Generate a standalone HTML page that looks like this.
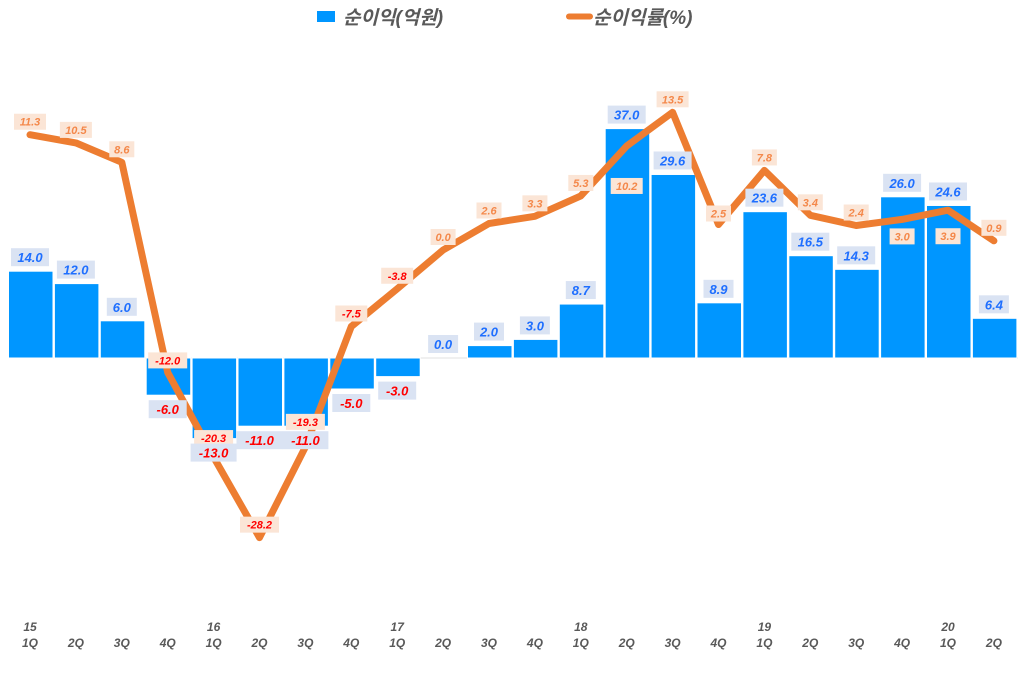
<!DOCTYPE html>
<html><head><meta charset="utf-8"><style>
html,body{margin:0;padding:0;background:#fff;}
svg{display:block;}
text{font-family:"Liberation Sans","Noto Sans CJK KR",sans-serif;font-weight:bold;font-style:italic;}
</style></head><body>
<svg id="c" width="1024" height="673" xmlns="http://www.w3.org/2000/svg">
<rect x="317" y="11" width="18" height="11" fill="#0096ff"/>
<text x="343" y="24" font-size="19" fill="#595959">순이익(억원)</text>
<line x1="569" y1="16.5" x2="590" y2="16.5" stroke="#ed7d31" stroke-width="6" stroke-linecap="round"/>
<text x="593" y="24" font-size="19" fill="#595959">순이익률(%)</text>
</svg>
<script>
var s=document.getElementById('c'),NS='http://www.w3.org/2000/svg';
function el(t,a,txt){var e=document.createElementNS(NS,t);for(var k in a)e.setAttribute(k,a[k]);if(txt!=null)e.textContent=txt;s.appendChild(e);return e;}
var bars=[14,12,6,-6,-13,-11,-11,-5,-3,0,2,3,8.7,37,29.6,8.9,23.6,16.5,14.3,26,24.6,6.4];
var pct=[11.3,10.5,8.6,-12,-20.3,-28.2,-19.3,-7.5,-3.8,0,2.6,3.3,5.3,10.2,13.5,2.5,7.8,3.4,2.4,3.0,3.9,0.9];
var off=[-13,-13,-13,-12,-19,-13,-25,-13,-13,-13,-13,-13,-13,40,-13,-11,-13,-13,-13,17,26,-13];
var Z=358,K=6.2,PZ=250,PK=10.2;
function cx(i){return 30+45.9*i;}
el('line',{x1:8,y1:Z,x2:1018,y2:Z,stroke:'#e0e0e0','stroke-width':1});
bars.forEach(function(v,i){
 var x=8+45.9*i,h=Math.abs(v)*K,y=v>=0?Z-h:Z;
 if(h>0)el('rect',{x:x+0.5,y:y,width:44.5,height:h,fill:'#0096ff',stroke:'#fff','stroke-width':1});
});
var pts=pct.map(function(v,i){return cx(i).toFixed(1)+','+(PZ-v*PK).toFixed(1);}).join(' ');
el('polyline',{points:pts,fill:'none',stroke:'#ed7d31','stroke-width':7,'stroke-linejoin':'round','stroke-linecap':'round'});
pct.forEach(function(v,i){
 var t=v.toFixed(1),w=t.length*7+4,ly=PZ-v*PK+off[i];
 el('rect',{x:cx(i)-w/2,y:ly-8,width:w,height:16,fill:'#fbe5d6'});
 el('text',{x:cx(i),y:ly+4,'font-size':11,'text-anchor':'middle',fill:v<0?'#ff0000':'#f4884a'},t);
});
bars.forEach(function(v,i){
 var t=v.toFixed(1),w=t.length*8+6,ly=v>=0?Z-v*K-14:Z-v*K+14;
 el('rect',{x:cx(i)-w/2,y:ly-9,width:w,height:18,fill:'#dae3f3'});
 el('text',{x:cx(i),y:ly+5,'font-size':13,'text-anchor':'middle',fill:v<0?'#ff0000':'#1f6fff'},t);
});
var yrs={0:'15',4:'16',8:'17',12:'18',16:'19',20:'20'};
for(var i=0;i<22;i++){
 if(yrs[i])el('text',{x:cx(i),y:631,'font-size':12,'text-anchor':'middle',fill:'#595959'},yrs[i]);
 el('text',{x:cx(i),y:647,'font-size':12,'text-anchor':'middle',fill:'#595959'},(i%4+1)+'Q');
}
</script>
</body></html>
